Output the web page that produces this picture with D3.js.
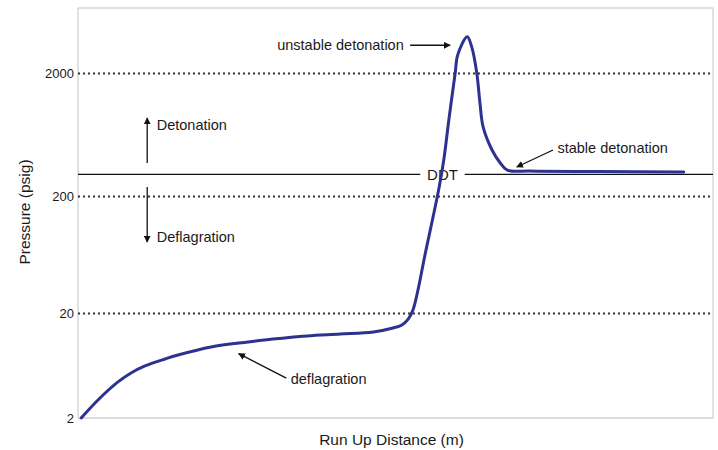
<!DOCTYPE html>
<html>
<head>
<meta charset="utf-8">
<script src="https://cdn.jsdelivr.net/npm/d3@7"></script>
<style>
  body { margin: 0; background: #fff; }
  text { font-family: "Liberation Sans", Arial, sans-serif; fill: #1a1a1a; }
</style>
</head>
<body>
<div id="chart"></div>
<script>
var margin = { top: 8, bottom: 32, left: 78, right: 5 };
var width = 718 - margin.left - margin.right;
var height = 450 - margin.top - margin.bottom;

// run up distance (arbitrary units, no ticks on the axis)
const distance = [0.5, 3.15, 6.3, 8.35, 10.55, 13.7, 15.75, 20.95, 26.8, 30.7, 36.1, 41.3, 46.5, 49.6,
    51.0, 52.0, 52.75, 54.8, 56.85, 57.6, 58.4, 59.4, 59.8, 61.3, 62.0, 62.8, 63.3, 63.8, 65.2, 66.5,
    67.6, 71.2, 82.2, 95.4];
// pressure (psig)
const pressure = [2.0, 2.97, 4.41, 5.37, 6.26, 7.29, 7.96, 9.5, 10.6, 11.3, 12.1, 12.6, 13.2, 14.4,
    15.4, 17.5, 21.2, 69, 232, 392, 830, 2000, 2800, 3930, 3250, 2000, 1140, 728, 473, 371,
    325, 319, 316, 313];

const pressureTicks = [2, 20, 200, 2000];
const ddtPressure = 300;

const svg = d3.select("#chart")
    .append("svg")
    .attr("width", width + margin.left + margin.right)
    .attr("height", height + margin.top + margin.bottom);

const defs = svg.append("defs");
defs.append("marker")
    .attr("id", "head")
    .attr("viewBox", "0 0 10 10")
    .attr("refX", 9).attr("refY", 5)
    .attr("markerUnits", "userSpaceOnUse")
    .attr("markerWidth", 7).attr("markerHeight", 7)
    .attr("orient", "auto")
    .append("path")
    .attr("d", "M0,0 L10,5 L0,10 z")
    .attr("fill", "#111");

const g = svg.append("g").attr("transform", `translate(${margin.left},${margin.top})`);

// scales - the picture's decades are not evenly spaced, so piecewise log
const xscale = d3.scaleLinear().domain([0, 100]).range([0, width]);
const yscale = d3.scaleLog()
    .domain([2, 20, 200, 2000, 6700])
    .range([410, 305, 188, 65, 0]);

// frame
g.append("rect")
    .attr("width", width).attr("height", height)
    .attr("fill", "none").attr("stroke", "#c4c4c4");
g.append("line")
    .attr("x1", 0).attr("x2", width).attr("y1", height).attr("y2", height)
    .attr("stroke", "#dcdcdc").attr("stroke-width", 2);

// dotted grid
g.append("g")
    .attr("class", "grid")
    .call(d3.axisLeft(yscale).tickValues(pressureTicks.slice(1)).tickSize(-width).tickFormat(""))
    .call((s) => s.select(".domain").remove())
    .selectAll("line")
    .attr("stroke", "#333")
    .attr("stroke-width", 2)
    .attr("stroke-dasharray", "2,3");

// y axis labels
g.append("g")
    .call(d3.axisLeft(yscale).tickValues(pressureTicks).tickSize(0).tickPadding(4).tickFormat(d3.format("d")))
    .call((s) => s.select(".domain").remove())
    .selectAll("text")
    .style("font-size", "13px")
    .attr("fill", "#1a1a1a");

// DDT line with gap for label
const ddtY = yscale(ddtPressure);
g.append("line")
    .attr("x1", 0).attr("x2", xscale(53.9)).attr("y1", ddtY).attr("y2", ddtY)
    .attr("stroke", "#111").attr("stroke-width", 1.2);
g.append("line")
    .attr("x1", xscale(60.9)).attr("x2", width).attr("y1", ddtY).attr("y2", ddtY)
    .attr("stroke", "#111").attr("stroke-width", 1.2);
g.append("text")
    .attr("x", xscale(57.4)).attr("y", ddtY)
    .attr("dy", "0.35em").attr("text-anchor", "middle")
    .style("font-size", "15px")
    .text("DDT");

// pressure curve
const line = d3.line()
    .x((d, i) => xscale(distance[i]))
    .y((d) => yscale(d))
    .curve(d3.curveCatmullRom.alpha(0.5));

g.append("path")
    .datum(pressure)
    .attr("d", line)
    .attr("fill", "none")
    .attr("stroke", "#2b3290")
    .attr("stroke-width", 3)
    .attr("stroke-linecap", "round")
    .attr("stroke-linejoin", "round");

// annotations (data coordinates)
const arrows = [
    { x1: 10.9, p1: 371, x2: 10.9, p2: 861 },
    { x1: 10.9, p1: 237, x2: 10.9, p2: 81 },
    { x1: 52.3, p1: 3350, x2: 58.6, p2: 3350 },
    { x1: 74.8, p1: 473, x2: 69.1, p2: 344 },
    { x1: 32.8, p1: 4.8, x2: 25.3, p2: 8.2 }
];
g.selectAll(".arrow")
    .data(arrows)
    .join("line")
    .attr("class", "arrow")
    .attr("x1", (d) => xscale(d.x1)).attr("y1", (d) => yscale(d.p1))
    .attr("x2", (d) => xscale(d.x2)).attr("y2", (d) => yscale(d.p2))
    .attr("stroke", "#111").attr("stroke-width", 1.3)
    .attr("marker-end", "url(#head)");

const notes = [
    { x: 12.4, p: 755, anchor: "start", text: "Detonation" },
    { x: 12.4, p: 89, anchor: "start", text: "Deflagration" },
    { x: 51.3, p: 3350, anchor: "end", text: "unstable detonation" },
    { x: 75.5, p: 491, anchor: "start", text: "stable detonation" },
    { x: 33.5, p: 4.7, anchor: "start", text: "deflagration" }
];
g.selectAll(".note")
    .data(notes)
    .join("text")
    .attr("class", "note")
    .attr("x", (d) => xscale(d.x)).attr("y", (d) => yscale(d.p))
    .attr("dy", "0.35em")
    .attr("text-anchor", (d) => d.anchor)
    .style("font-size", "14.5px")
    .text((d) => d.text);

// axis titles
svg.append("text")
    .attr("x", margin.left + width / 2 - 4)
    .attr("y", 445)
    .attr("text-anchor", "middle")
    .style("font-size", "15.5px")
    .text("Run Up Distance (m)");

svg.append("text")
    .attr("transform", "translate(25,212) rotate(-90)")
    .attr("dy", "0.35em")
    .attr("text-anchor", "middle")
    .style("font-size", "15.5px")
    .text("Pressure (psig)");
</script>
</body>
</html>
